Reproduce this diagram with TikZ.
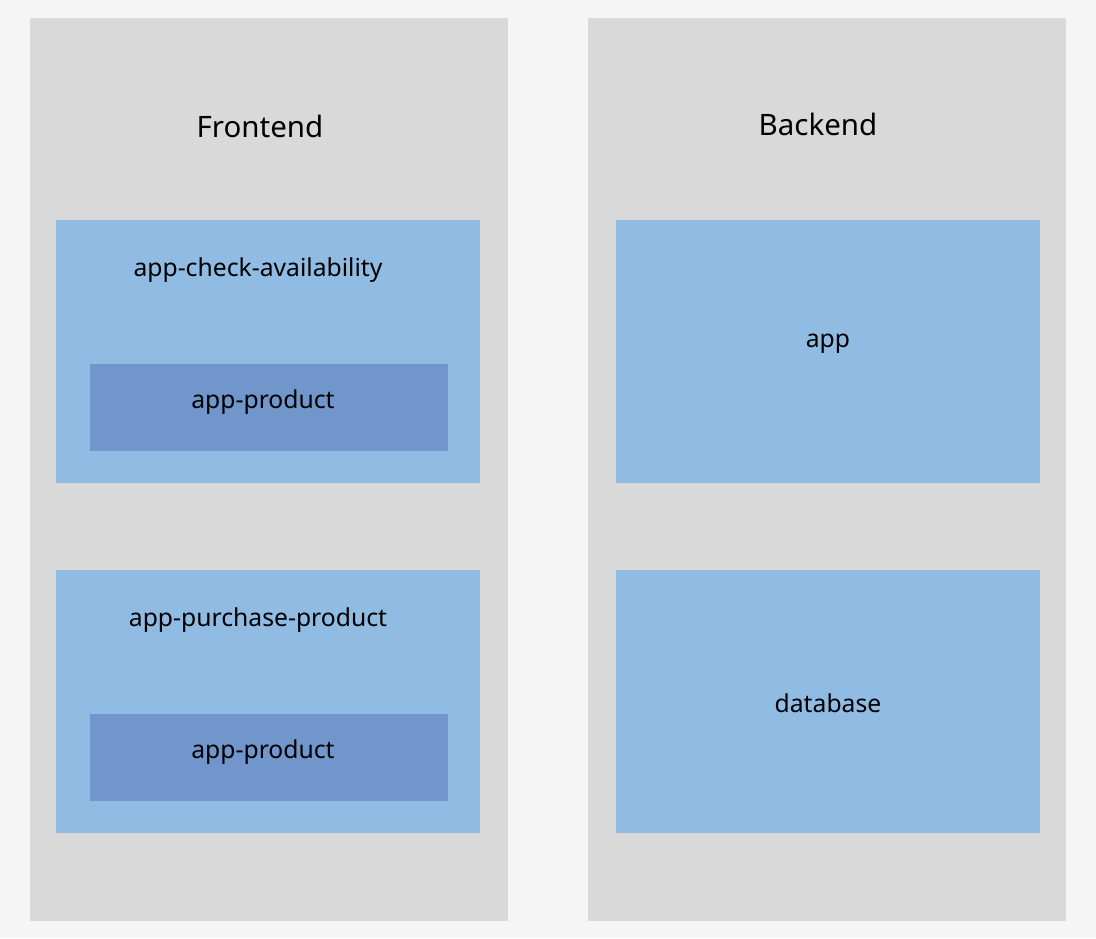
\documentclass[tikz,border=0pt]{standalone}
\usepackage{fontspec}
\setmainfont{Noto Sans}
\definecolor{bgc}{HTML}{F5F5F5}
\definecolor{panelc}{HTML}{D9D9D9}
\definecolor{bluec}{HTML}{90BCE4}
\definecolor{darkc}{HTML}{7096CC}
\begin{document}
\begin{tikzpicture}[x=1pt,y=-1pt,
  lbl/.style={inner sep=0pt,font=\fontsize{24.7}{28}\selectfont,text=black},
  title/.style={inner sep=0pt,font=\fontsize{29.5}{34}\selectfont,text=black}]
\fill[bgc] (0,0) rectangle (1096,938);
\useasboundingbox (0,0) rectangle (1096,938);
% panels
\path[fill=panelc] (30,18) rectangle (508,921);
\path[fill=panelc] (588,18) rectangle (1066,921);
% frontend boxes
\path[fill=bluec] (56,220) rectangle (480,483);
\path[fill=darkc] (90,364) rectangle (448,451);
\path[fill=bluec] (56,570) rectangle (480,833);
\path[fill=darkc] (90,714) rectangle (448,801);
% backend boxes
\path[fill=bluec] (616,220) rectangle (1040,483);
\path[fill=bluec] (616,570) rectangle (1040,833);
% texts
\node[title] (tfe) at (260,126) {Frontend};
\node[title] (tbe) at (818,124) {Backend};
\node[lbl] (tca) at (258,270) {app-check-availability};
\node[lbl] (tp1) at (263,402) {app-product};
\node[lbl] (tpp) at (258,620) {app-purchase-product};
\node[lbl] (tp2) at (263,752) {app-product};
\node[lbl] (tapp) at (828,344) {app};
\node[lbl] (tdb) at (828,703) {database};
\end{tikzpicture}
\end{document}
